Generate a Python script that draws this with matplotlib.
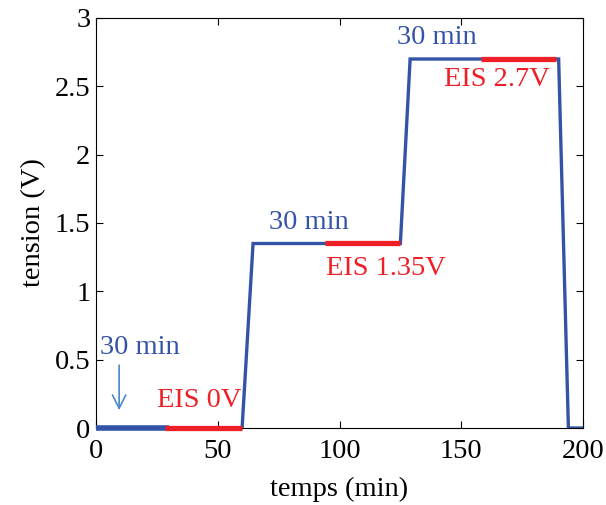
import matplotlib
matplotlib.use("Agg")
import matplotlib.pyplot as plt

# data
t_blue = [0, 30, 30, 60, 64.5, 94, 94, 125, 129, 158, 158, 190, 194, 200]
v_blue = [0, 0, 0, 0, 1.35, 1.35, 1.35, 1.35, 2.7, 2.7, 2.7, 2.7, 0, 0]
eis_t = [(28.5, 60), (94, 125), (158, 189)]
eis_v = [0, 1.35, 2.7]
eis_labels = ["EIS 0V", "EIS 1.35V", "EIS 2.7V"]
eis_label_pos = [(42.5, 0.2), (119, 1.17), (164.5, 2.55)]
dur_label = "30 min"
dur_label_pos = [(18, 0.59), (87.5, 1.5), (140, 2.86)]
xticks = [0, 50, 100, 150, 200]
yticks = [0, 0.5, 1, 1.5, 2, 2.5, 3]

BLUE = "#3353a6"
RED = "#ee2027"
ARROW = "#4a87c8"

plt.rcParams['font.family'] = ['Liberation Serif', 'DejaVu Serif']
FS = 20.5

fig = plt.figure(figsize=(6.06, 5.05), dpi=100)
ax = fig.add_axes([96/606, 1-428/505, (583-96)/606, (428-18)/505])

ax.plot(t_blue, v_blue, color=BLUE, lw=2.4, solid_joinstyle='miter', zorder=3)
ax.plot([0, 30], [0, 0], color=BLUE, lw=4.0, solid_capstyle='butt', zorder=3, clip_on=False)
for (a, b), v in zip(eis_t, eis_v):
    ax.plot([a, b], [v, v], color=RED, lw=3.8, solid_capstyle='butt', zorder=4, clip_on=False)

for lab, (x, y) in zip(eis_labels, eis_label_pos):
    ax.text(x, y, lab, color=RED, fontsize=FS, ha='center', va='center')
for (x, y) in dur_label_pos:
    ax.text(x, y, dur_label, color=BLUE, fontsize=FS, ha='center', va='center')

ax.annotate("", xy=(9.5, 0.11), xytext=(9.5, 0.48),
            arrowprops=dict(arrowstyle='->', color=ARROW, lw=1.2,
                            mutation_scale=24))

ax.set_xlim(0, 200)
ax.set_ylim(0, 3)
ax.set_xticks(xticks)
ax.set_yticks(yticks)
ax.set_xticklabels([str(v) for v in xticks])
ax.set_yticklabels(["0", "0.5", "1", "1.5", "2", "2.5", "3"])
ax.tick_params(direction='in', top=True, right=True, labelsize=FS, length=5, width=0.8, pad=4)
ax.tick_params(axis='x', pad=8)
ax.set_xlabel("temps (min)", fontsize=FS, labelpad=9)
ax.set_ylabel("tension (V)", fontsize=FS, labelpad=6)
for s in ax.spines.values():
    s.set_linewidth(0.8)

fig.savefig("out.png", dpi=100)
